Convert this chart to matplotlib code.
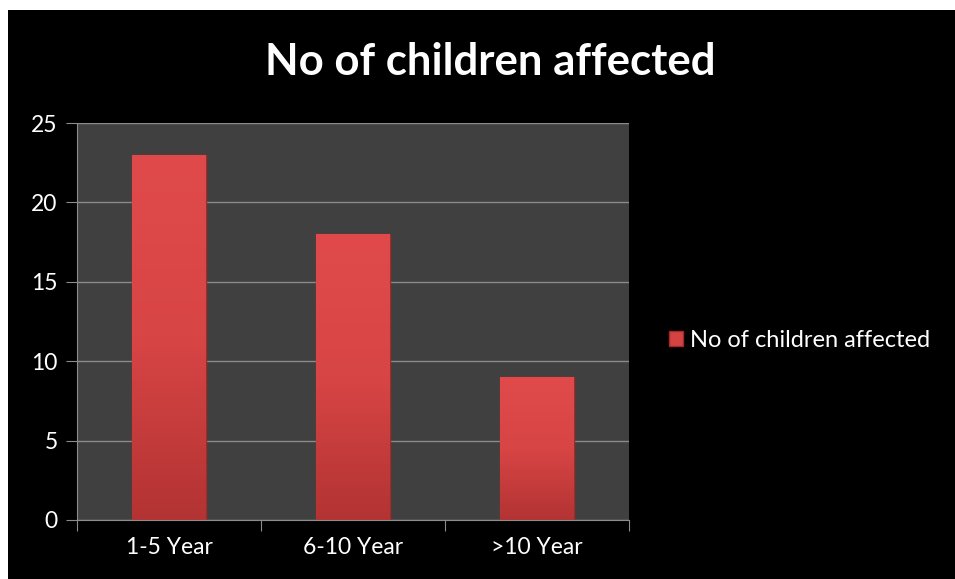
import numpy as np
import matplotlib.pyplot as plt
from matplotlib.patches import Rectangle

categories = ['1-5 Year', '6-10 Year', '>10 Year']
children = [23, 18, 9]
yticks = [0, 5, 10, 15, 20, 25]

W, H = 955, 579
fig = plt.figure(figsize=(W / 100, H / 100), dpi=100, facecolor='white')
plt.rcParams['font.family'] = ['Lato', 'DejaVu Sans']

# black slide area with a thin white margin on top and left
fig.patches.append(Rectangle((8 / W, 0), 1, (H - 10) / H, transform=fig.transFigure,
                             facecolor='black', edgecolor='none', zorder=-1))

ax = fig.add_axes([77 / W, (H - 520) / H, (629 - 77) / W, (520 - 123) / H])
ax.set_facecolor('#404040')

x = np.arange(len(categories))
bars = ax.bar(x, children, width=0.4, color='#d54242', edgecolor='#9e2a2a',
              linewidth=1.0, zorder=3, label='No of children affected')

# vertical gradient inside each bar
grad = np.linspace(0, 1, 256).reshape(-1, 1)
cmap = plt.matplotlib.colors.LinearSegmentedColormap.from_list(
    'bar', ['#b33333', '#d84545', '#e04a4a'])
for b in bars:
    im = ax.imshow(grad, extent=[b.get_x(), b.get_x() + b.get_width(), 0, b.get_height()],
                   origin='lower', cmap=cmap, aspect='auto', zorder=3.5)
    im.set_clip_path(b)

ax.set_xlim(-0.5, 2.5)
ax.set_ylim(0, 25)
ax.set_yticks(yticks)
ax.set_xticks([-0.5, 0.5, 1.5, 2.5])
ax.set_xticklabels([])
ax.set_xticks(x, minor=True)
ax.set_xticklabels(categories, minor=True)
ax.tick_params(axis='x', which='minor', length=0, pad=12, labelsize=16.5, labelcolor='white')
ax.tick_params(axis='x', which='major', length=8, color='#8c8c8c', direction='out')
ax.tick_params(axis='y', length=8, color='#8c8c8c', labelsize=16.5, labelcolor='white', pad=6)
ax.grid(axis='y', color='#8a8a8a', linewidth=1, zorder=1)
for s in ['top', 'right']:
    ax.spines[s].set_visible(False)
for s in ['left', 'bottom']:
    ax.spines[s].set_color('#8c8c8c')
    ax.spines[s].set_zorder(4)

fig.text(490 / W, 1 - 62 / H, 'No of children affected', color='white',
         fontsize=31.5, fontweight='bold', ha='center', va='center')

leg = ax.legend(loc='center left', bbox_to_anchor=(1.055, 0.453), frameon=False,
                fontsize=17, labelcolor='white', handlelength=0.6, handleheight=0.6,
                handletextpad=0.3, borderaxespad=0)

fig.savefig('out.png', dpi=100, facecolor=fig.get_facecolor())
